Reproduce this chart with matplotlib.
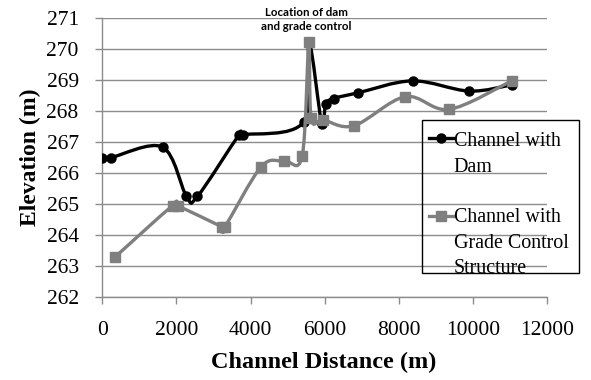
import numpy as np
import matplotlib
matplotlib.use("Agg")
import matplotlib.pyplot as plt
from matplotlib.path import Path
from matplotlib.patches import PathPatch, Rectangle
from matplotlib.lines import Line2D
from matplotlib.legend_handler import HandlerLine2D

# ---- data ----
dam_x = [0, 226, 1626, 2272, 2568, 3680, 3800, 5430, 5580, 5920, 6030, 6240, 6890, 8372, 9898, 11047]
dam_y = [266.5, 266.5, 266.84, 265.25, 265.25, 267.22, 267.24, 267.65, 270.2, 267.6, 268.23, 268.41, 268.59, 268.98, 268.65, 268.85]

gc_x = [342, 1895, 2047, 3220, 3300, 4290, 4900, 5394, 5572, 5636, 5968, 6790, 8175, 9359, 11047]
gc_y = [263.29, 264.95, 264.94, 264.27, 264.25, 266.21, 266.4, 266.56, 270.25, 267.77, 267.72, 267.53, 268.47, 268.06, 268.98]

x_ticks = [0, 2000, 4000, 6000, 8000, 10000, 12000]
y_ticks = [262, 263, 264, 265, 266, 267, 268, 269, 270, 271]

labels = ["Channel with\nDam", "Channel with\nGrade Control\nStructure"]
colors = ["#000000", "#7f7f7f"]
markers = ["o", "s"]

SERIF = "Liberation Serif"
plt.rcParams["font.family"] = [SERIF, "DejaVu Serif"]


def smooth_path(xs, ys):
    """Excel-style smoothed line: cubic Bezier segments with Catmull-Rom control points."""
    pts = np.column_stack([xs, ys]).astype(float)
    n = len(pts)
    verts = [pts[0]]
    codes = [Path.MOVETO]
    for i in range(n - 1):
        p0 = pts[i - 1] if i > 0 else pts[i]
        p1 = pts[i]
        p2 = pts[i + 1]
        p3 = pts[i + 2] if i + 2 < n else pts[i + 1]
        c1 = p1 + (p2 - p0) / 6.0
        c2 = p2 - (p3 - p1) / 6.0
        verts += [c1, c2, p2]
        codes += [Path.CURVE4] * 3
    return Path(verts, codes)


class FirstLineHandler(HandlerLine2D):
    """Legend handle aligned with the first line of a multi-line label."""
    def __init__(self, shift_pts, **kw):
        super().__init__(**kw)
        self.shift = shift_pts

    def create_artists(self, legend, orig_handle, xdescent, ydescent, width, height, fontsize, trans):
        return super().create_artists(legend, orig_handle, xdescent, ydescent - 2 * self.shift,
                                      width, height, fontsize, trans)


W, H = 591, 380
fig = plt.figure(figsize=(W / 100, H / 100), dpi=100)
ax = fig.add_axes([102.3 / W, 1 - 297 / H, (547 - 102.3) / W, (297 - 18.3) / H])

for sx, sy, c, m, z in [(dam_x, dam_y, colors[0], markers[0], 3), (gc_x, gc_y, colors[1], markers[1], 4)]:
    patch = PathPatch(smooth_path(sx, sy), facecolor="none", edgecolor=c, lw=2.4,
                      transform=ax.transData, zorder=z, capstyle="round", joinstyle="round")
    ax.add_patch(patch)
    ax.plot(sx, sy, linestyle="none", marker=m, color=c, markersize=6.5, zorder=z + 0.5)

ax.set_xlim(0, 12000)
ax.set_ylim(262, 271)
ax.set_xticks(x_ticks)
ax.set_yticks(y_ticks)
ax.set_xticklabels([str(v) for v in x_ticks])
ax.set_yticklabels([str(v) for v in y_ticks])

ax.grid(axis="y", color="#8c8c8c", lw=1.0)
ax.set_axisbelow(True)
for s in ["top", "right"]:
    ax.spines[s].set_visible(False)
for s in ["left", "bottom"]:
    ax.spines[s].set_color("#8c8c8c")
    ax.spines[s].set_linewidth(1.0)
ax.tick_params(axis="both", direction="out", length=5, width=1.0, color="#8c8c8c", labelsize=15.5)
ax.tick_params(axis="y", pad=12)
ax.tick_params(axis="x", pad=12)

fig.text(30 / W, 1 - 157 / H, "Elevation (m)", rotation=90, ha="center", va="center",
         fontweight="bold", fontsize=17)
fig.text(324 / W, 1 - 362 / H, "Channel Distance (m)", ha="center", va="center",
         fontweight="bold", fontsize=17.5)

fig.text(306 / W, 1 - 19.5 / H, "Location of dam\nand grade control", ha="center", va="center",
         family="Lato", fontweight="bold", fontsize=8.3, linespacing=1.25)

# legend (frame drawn separately so the text can sit close to the bottom edge, as in the original)
handles = [Line2D([], [], color=colors[i], marker=markers[i], lw=2.4, markersize=6.5) for i in range(2)]
line_pts = 25 * 0.72
hmap = {handles[0]: FirstLineHandler(0.5 * line_pts + 3.0), handles[1]: FirstLineHandler(1.0 * line_pts + 1.5)}
leg = fig.legend(handles, labels, loc="upper left", handler_map=hmap,
                 bbox_to_anchor=(421.7 / W, 1 - 125.3 / H), bbox_transform=fig.transFigure,
                 borderaxespad=0, frameon=False,
                 prop={"size": 14.4}, handlelength=1.2, handletextpad=0.05,
                 labelspacing=1.55, borderpad=0.35)
for t in leg.get_texts():
    t.set_linespacing(1.48)
fig.patches.append(Rectangle((421.7 / W, 1 - 273.3 / H), (579.3 - 421.7) / W, (273.3 - 120.3) / H,
                             transform=fig.transFigure, figure=fig, facecolor="none",
                             edgecolor="black", lw=1.0, zorder=5))

fig.savefig("out.png", dpi=100)
